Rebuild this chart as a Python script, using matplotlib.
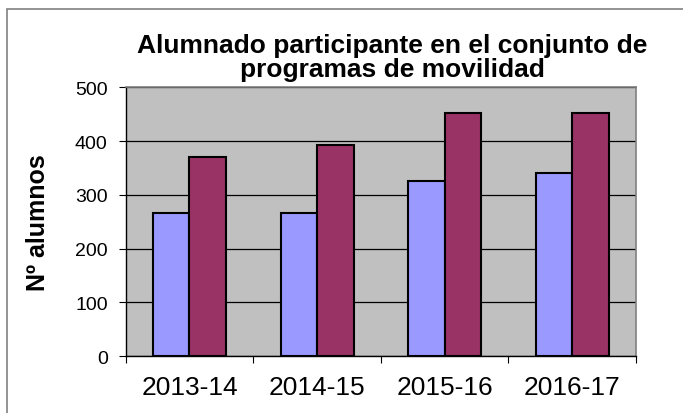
import numpy as np
from matplotlib import pyplot as plt
from matplotlib.patches import Rectangle

plt.rcParams['font.family'] = ['Liberation Sans', 'DejaVu Sans']

cursos = ['2013-14', '2014-15', '2015-16', '2016-17']
serie1 = [267, 267, 326, 341]
serie2 = [371, 392, 452, 452]
yticks = [0, 100, 200, 300, 400, 500]

fig = plt.figure(figsize=(6.83, 4.14), dpi=100)
fig.patches.append(Rectangle((7/683, -0.1), 1.2, 1 - 10/414 + 0.1, transform=fig.transFigure,
                             fill=False, edgecolor='#808080', linewidth=1.2))

ax = fig.add_axes([125.7/683, 1 - 357/414, (636 - 125.7)/683, (357 - 88.3)/414])
ax.set_facecolor('#C0C0C0')

x = np.arange(len(cursos))
w = 0.286
ax.bar(x - w/2, serie1, w, color='#9999FF', edgecolor='black', linewidth=1.5, zorder=3)
ax.bar(x + w/2, serie2, w, color='#993366', edgecolor='black', linewidth=1.5, zorder=3)

ax.set_xlim(-0.5, 3.5)
ax.set_ylim(0, 500)
ax.set_yticks(yticks)
ax.set_yticklabels([str(v) for v in yticks], fontsize=14)
ax.yaxis.grid(True, color='black', linewidth=0.9, zorder=0)
ax.set_axisbelow(True)

ax.set_xticks(x)
ax.set_xticklabels(cursos, fontsize=19)
ax.tick_params(axis='x', length=0, pad=14)
ax.set_xticks(np.arange(-0.5, 4.0, 1), minor=True)
ax.tick_params(axis='x', which='minor', length=5, width=0.8, direction='out')
ax.tick_params(axis='y', length=5, width=0.8, direction='out', pad=8)

for s in ['top', 'right']:
    ax.spines[s].set_color('#808080')
    ax.spines[s].set_linewidth(1.2)
for s in ['left', 'bottom']:
    ax.spines[s].set_color('black')
    ax.spines[s].set_linewidth(1.0)

ax.set_ylabel('Nº alumnos', fontsize=18, fontweight='bold', labelpad=18)
fig.text(392/683, 1 - 58/414, 'Alumnado participante en el conjunto de\nprogramas de movilidad',
         ha='center', va='center', fontsize=19, fontweight='bold', linespacing=1.0)

plt.savefig('out.png', dpi=100)
